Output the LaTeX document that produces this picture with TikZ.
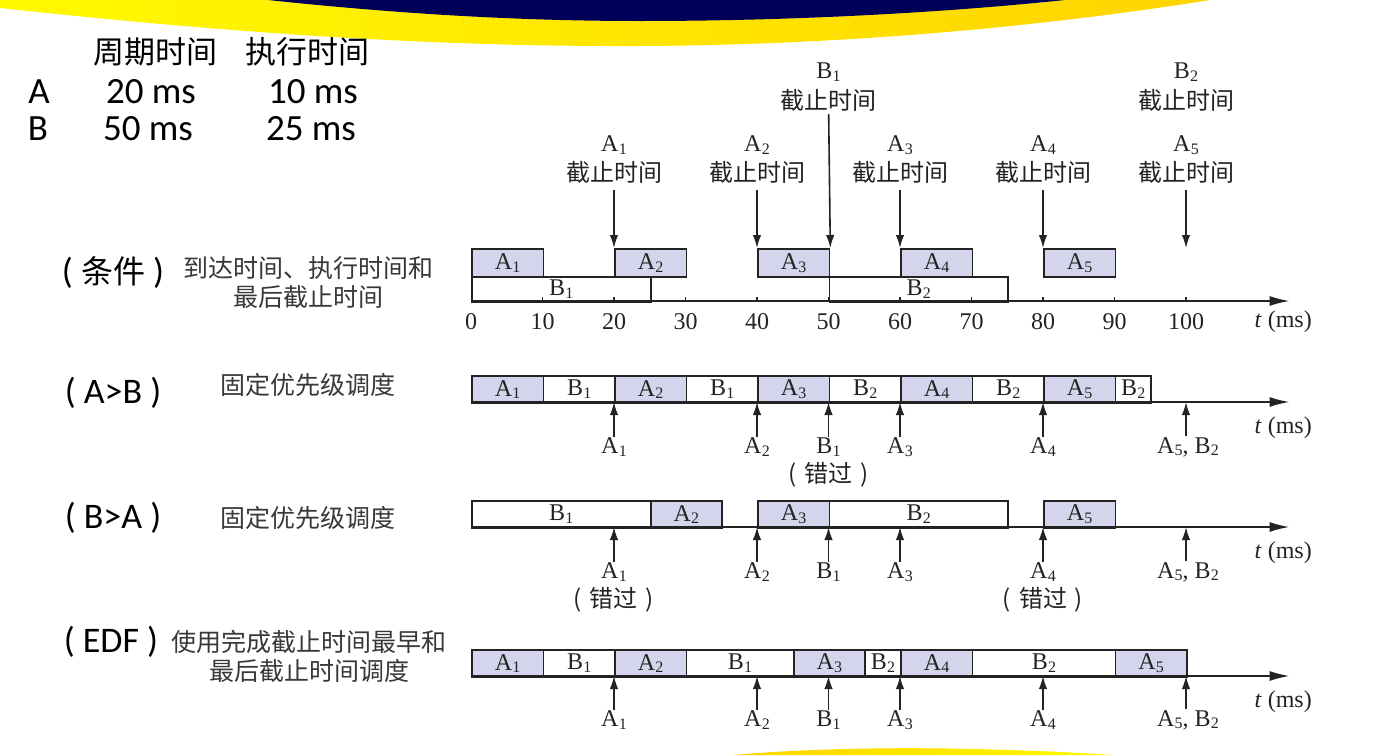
\documentclass[tikz,border=0pt]{standalone}
\usepackage{fontspec}
\setmainfont{Liberation Serif}
\newfontfamily\cjk{Noto Sans CJK SC}
\newfontfamily\hdfont{Carlito}
\usetikzlibrary{arrows.meta}

\definecolor{lav}{RGB}{212,212,236}
\definecolor{ink}{RGB}{35,35,35}
\definecolor{navyband}{RGB}{0,0,88}
\definecolor{ybright}{RGB}{255,250,0}
\definecolor{ygold}{RGB}{255,212,0}

% letter with a lowered index
\newcommand\lbl[2]{#1\kern0.3pt\raisebox{-2.6pt}{\fontsize{16}{16}\selectfont #2}}
% a time segment: name, start, end, top y, style, text
\newcommand\tseg[6]{%
  \pgfmathsetmacro\segw{7.15*(#3-#2)}%
  \node[#5, minimum width=\segw pt, anchor=north west] (#1) at (#2,#4) {#6};}
% "missed" remark
\newcommand\missed{(\hspace{8pt}错过\hspace{8pt})}

\tikzset{
  seg/.style={draw=ink, line width=1.8pt, fill=white, inner sep=0pt,
    minimum height=27pt, font=\fontsize{24}{24}\selectfont, text=ink},
  aseg/.style={seg, fill=lav},
  lab/.style={inner sep=1pt, font=\fontsize{24}{24}\selectfont, text=ink},
  cjklab/.style={inner sep=1pt, font=\cjk\fontsize{24}{24}\selectfont, text=ink},
  darr/.style={draw=ink, line width=1.6pt, -{Latex[length=13pt,width=8.5pt]}},
  axisline/.style={draw=ink, line width=2pt, -{Latex[length=20pt,width=10pt]}},
  tickmark/.style={draw=ink, line width=1.5pt},
  hd/.style={inner sep=0pt, text=black},
  rowlab/.style={inner sep=0pt, text=black, font=\hdfont\fontsize{36}{36}\selectfont},
  desc/.style={inner sep=0pt, font=\cjk\fontsize{25}{29}\selectfont, text=black!78, align=center},
}

\begin{document}
\begin{tikzpicture}[x=1pt, y=-1pt]
\useasboundingbox (0,0) rectangle (1373,755);
\fill[white] (0,0) rectangle (1373,755);

% decorative bands
\shade[left color=ybright, right color=ygold]
  (0,0) -- (0,8) .. controls (220,32) and (430,47) .. (640,46)
  .. controls (860,45) and (1060,24) .. (1210,0) -- cycle;
\fill[navyband] (268,0) .. controls (400,14) and (520,21) .. (640,21)
  .. controls (800,21) and (950,12) .. (1065,0) -- cycle;
\shade[left color=ygold, right color=ybright]
  (733,755) .. controls (800,749) and (880,747.5) .. (950,748.5)
  .. controls (1030,750) and (1085,753) .. (1112,755) -- cycle;

% task table
\node[hd, font=\cjk\fontsize{31}{31}\selectfont] (hperiod) at (155,52) {周期时间};
\node[hd, font=\cjk\fontsize{31}{31}\selectfont] (hexec) at (307,52) {执行时间};
\node[hd, font=\hdfont\fontsize{37}{37}\selectfont] (tA) at (39,92) {A};
\node[hd, font=\hdfont\fontsize{37}{37}\selectfont] (tA1) at (151,92) {20 ms};
\node[hd, font=\hdfont\fontsize{37}{37}\selectfont] (tA2) at (313,92) {10 ms};
\node[hd, font=\hdfont\fontsize{37}{37}\selectfont] (tB) at (38,129) {B};
\node[hd, font=\hdfont\fontsize{37}{37}\selectfont] (tB1) at (148,129) {50 ms};
\node[hd, font=\hdfont\fontsize{37}{37}\selectfont] (tB2) at (311,129) {25 ms};

% row captions
\node[rowlab] (rc1) at (113,273) {( {\cjk\fontsize{32}{32}\selectfont 条件} )};
\node[rowlab] (rc2) at (113,393) {( A>B )};
\node[rowlab] (rc3) at (113,518) {( B>A )};
\node[rowlab] (rc4) at (111,642) {( EDF )};
\node[desc] (dc1) at (308,283) {到达时间、执行时间和\\最后截止时间};
\node[desc] (dc2) at (308,385) {固定优先级调度};
\node[desc] (dc3) at (308,518) {固定优先级调度};
\node[desc] (dc4) at (309,656) {使用完成截止时间最早和\\最后截止时间调度};

\begin{scope}[xshift=471pt, x=7.15pt, y=-1pt]
  % ---------- conditions ----------
  \tseg{r1b1}{0}{25}{276}{seg, minimum height=25pt}{\lbl{B}{1}}
  \tseg{r1b2}{50}{75}{276}{seg, minimum height=25pt}{\lbl{B}{2}}
  \tseg{r1a1}{0}{10}{248}{aseg, minimum height=28pt}{\lbl{A}{1}}
  \tseg{r1a2}{20}{30}{248}{aseg, minimum height=28pt}{\lbl{A}{2}}
  \tseg{r1a3}{40}{50}{248}{aseg, minimum height=28pt}{\lbl{A}{3}}
  \tseg{r1a4}{60}{70}{248}{aseg, minimum height=28pt}{\lbl{A}{4}}
  \tseg{r1a5}{80}{90}{248}{aseg, minimum height=28pt}{\lbl{A}{5}}
  \coordinate (ax1s) at (0,301);
  \coordinate (ax1e) at (114.5,301);
  \draw[axisline] (ax1s) -- (ax1e);
  \foreach \t in {10,20,...,100} \draw[tickmark] (\t,301) -- (\t,297);
  \foreach \t in {0,10,...,100} \node[lab] (tk\t) at (\t,322) {\t};
  \node[lab] (u1) at (113.6,322) {\textit{t} (ms)};

  % deadlines
  \foreach \t/\k in {20/1,40/2,60/3,80/4,100/5} {
    \node[lab] (dl\t a) at (\t,145) {\lbl{A}{\k}};
    \node[cjklab] (dl\t b) at (\t,172) {截止时间};
  }
  \node[lab] (dl50a) at (50,72) {\lbl{B}{1}};
  \node[cjklab] (dl50b) at (50,100) {截止时间};
  \node[lab] (dl100x) at (100,72) {\lbl{B}{2}};
  \node[cjklab] (dl100y) at (100,100) {截止时间};
  \coordinate (dd100) at (100,248);
  \draw[darr, shorten <=6pt] (dl20b) -- (r1a2.north west);
  \draw[darr, shorten <=6pt] (dl40b) -- (r1a3.north west);
  \draw[darr, shorten <=2pt] (dl50b) -- (r1a3.north east);
  \draw[darr, shorten <=6pt] (dl60b) -- (r1a4.north west);
  \draw[darr, shorten <=6pt] (dl80b) -- (r1a5.north west);
  \draw[darr, shorten <=6pt] (dl100b) -- (dd100);

  % ---------- fixed priority, A > B ----------
  \tseg{r2s1}{0}{10}{375}{aseg}{\lbl{A}{1}}
  \tseg{r2s2}{10}{20}{375}{seg}{\lbl{B}{1}}
  \tseg{r2s3}{20}{30}{375}{aseg}{\lbl{A}{2}}
  \tseg{r2s4}{30}{40}{375}{seg}{\lbl{B}{1}}
  \tseg{r2s5}{40}{50}{375}{aseg}{\lbl{A}{3}}
  \tseg{r2s6}{50}{60}{375}{seg}{\lbl{B}{2}}
  \tseg{r2s7}{60}{70}{375}{aseg}{\lbl{A}{4}}
  \tseg{r2s8}{70}{80}{375}{seg}{\lbl{B}{2}}
  \tseg{r2s9}{80}{90}{375}{aseg}{\lbl{A}{5}}
  \tseg{r2s10}{90}{95}{375}{seg}{\lbl{B}{2}}
  \coordinate (ax2s) at (0,402);
  \coordinate (ax2e) at (114.5,402);
  \draw[axisline] (ax2s) -- (ax2e);
  \node[lab] (u2) at (113.6,428) {\textit{t} (ms)};

  % ---------- fixed priority, B > A ----------
  \tseg{r3s1}{0}{25}{500}{seg}{\lbl{B}{1}}
  \tseg{r3s2}{25}{35}{500}{aseg}{\lbl{A}{2}}
  \tseg{r3s3}{40}{50}{500}{aseg}{\lbl{A}{3}}
  \tseg{r3s4}{50}{75}{500}{seg}{\lbl{B}{2}}
  \tseg{r3s5}{80}{90}{500}{aseg}{\lbl{A}{5}}
  \coordinate (ax3s) at (0,527);
  \coordinate (ax3e) at (114.5,527);
  \draw[axisline] (ax3s) -- (ax3e);
  \node[lab] (u3) at (113.6,553) {\textit{t} (ms)};

  % ---------- earliest deadline first ----------
  \tseg{r4s1}{0}{10}{649}{aseg}{\lbl{A}{1}}
  \tseg{r4s2}{10}{20}{649}{seg}{\lbl{B}{1}}
  \tseg{r4s3}{20}{30}{649}{aseg}{\lbl{A}{2}}
  \tseg{r4s4}{30}{45}{649}{seg}{\lbl{B}{1}}
  \tseg{r4s5}{45}{55}{649}{aseg}{\lbl{A}{3}}
  \tseg{r4s6}{55}{60}{649}{seg}{\lbl{B}{2}}
  \tseg{r4s7}{60}{70}{649}{aseg}{\lbl{A}{4}}
  \tseg{r4s8}{70}{90}{649}{seg}{\lbl{B}{2}}
  \tseg{r4s9}{90}{100}{649}{aseg}{\lbl{A}{5}}
  \coordinate (ax4s) at (0,676);
  \coordinate (ax4e) at (114.5,676);
  \draw[axisline] (ax4s) -- (ax4e);
  \node[lab] (u4) at (113.6,702) {\textit{t} (ms)};

  % deadline markers under rows 2-4
  \foreach \r/\ya/\yl in {2/402/447, 3/527/572, 4/676/720} {
    \foreach \t/\a/\k in {20/A/1, 40/A/2, 50/B/1, 60/A/3, 80/A/4} {
      \coordinate (r\r c\t) at (\t,\ya);
      \node[lab] (r\r l\t) at (\t,\yl) {\lbl{\a}{\k}};
      \draw[darr] (r\r l\t) -- (r\r c\t);
    }
    \coordinate (r\r c100) at (100,\ya);
    \node[lab] (r\r l100) at ([xshift=2pt]100,\yl) {\lbl{A}{5}, \lbl{B}{2}};
    \draw[darr] (r\r l100.north -| r\r c100) -- (r\r c100);
  }
  \node[cjklab] (miss2) at (50,475) {\missed};
  \node[cjklab] (miss3a) at (20,600) {\missed};
  \node[cjklab] (miss3b) at (80,600) {\missed};
\end{scope}
\end{tikzpicture}
\end{document}
